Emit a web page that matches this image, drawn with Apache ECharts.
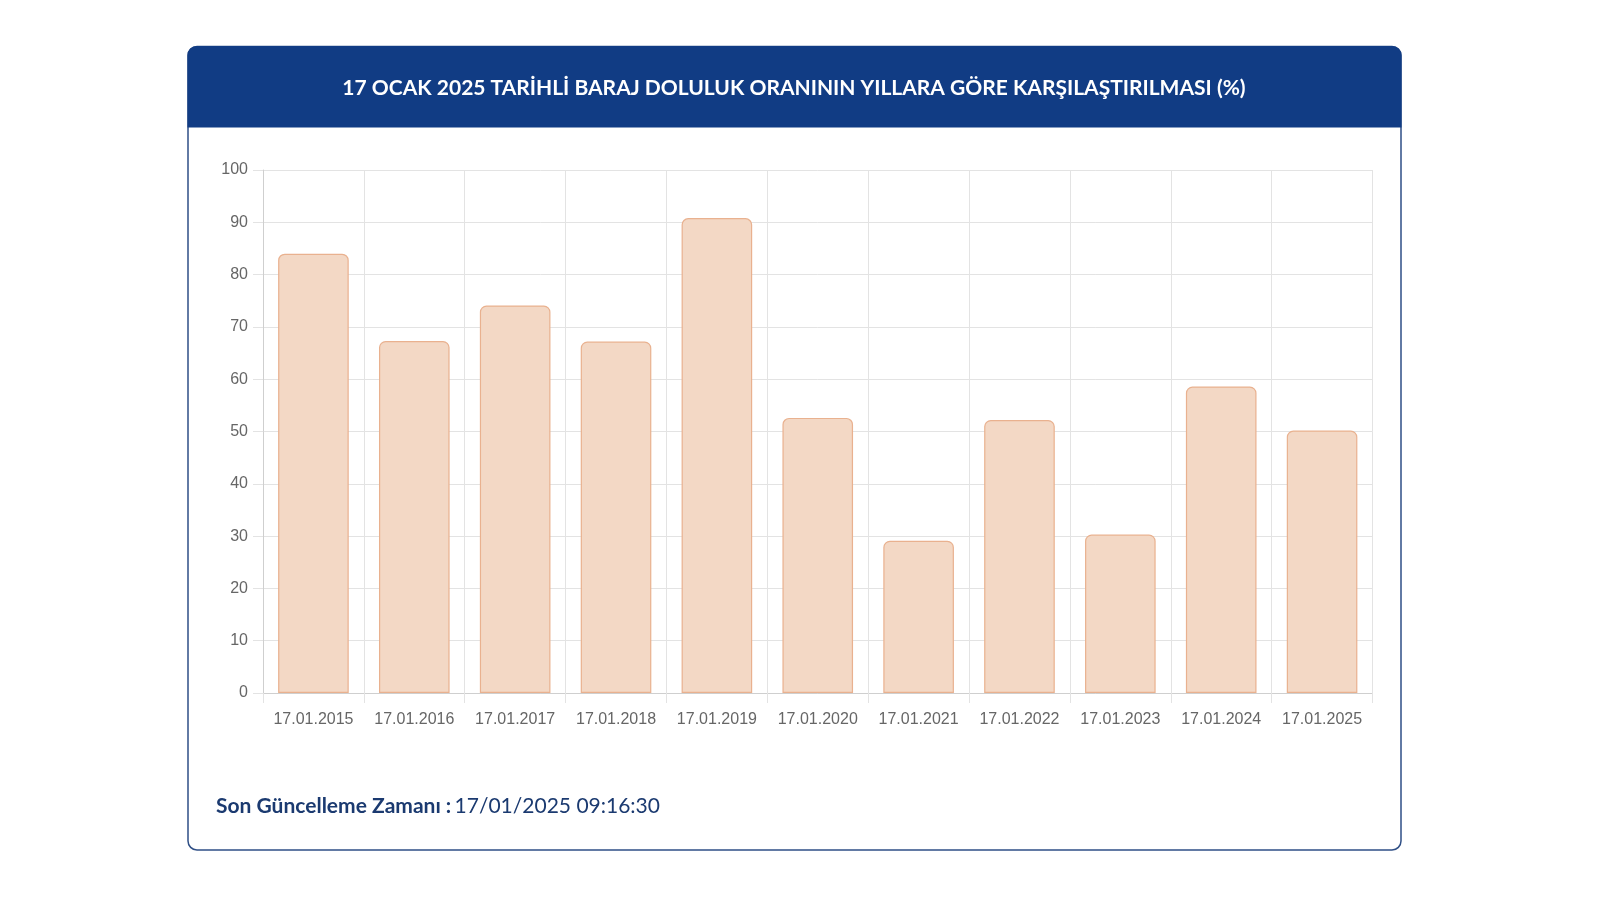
<!DOCTYPE html>
<html>
<head>
<meta charset="utf-8">
<script src="https://cdn.jsdelivr.net/npm/echarts@6/dist/echarts.min.js"></script>
<style>
html,body{margin:0;padding:0;background:#fff;}
#chart{width:1600px;height:900px;}
</style>
</head>
<body>
<div id="chart"></div>
<script>
const titleText = '17 OCAK 2025 TARİHLİ BARAJ DOLULUK ORANININ YILLARA GÖRE KARŞILAŞTIRILMASI (%)';
const categories = ['17.01.2015','17.01.2016','17.01.2017','17.01.2018','17.01.2019','17.01.2020','17.01.2021','17.01.2022','17.01.2023','17.01.2024','17.01.2025'];
const values = [84.0, 67.3, 74.1, 67.2, 90.8, 52.6, 29.1, 52.2, 30.3, 58.6, 50.2];
const yTicks = [0,10,20,30,40,50,60,70,80,90,100];
const footerLabel = 'Son Güncelleme Zamanı :';
const footerValue = '17/01/2025 09:16:30';

const chart = echarts.init(document.getElementById('chart'), null, {renderer:'canvas'});
const gridColor = '#e3e3e3';
chart.setOption({
  animation:false,
  graphic:[
    {type:'rect', z:0, shape:{x:188, y:46.5, width:1213, height:803.5, r:9}, style:{fill:'#fff', stroke:'#2f4f86', lineWidth:1.5}},
    {type:'rect', z:1, shape:{x:187.5, y:46, width:1214, height:81.5, r:[9,9,0,0]}, style:{fill:'#113c84'}},
    {type:'text', z:2, x:794, y:88, style:{
      text:titleText, fill:'#fff', fontFamily:'Lato', fontWeight:'bold', fontSize:21,
      align:'center', verticalAlign:'middle'
    }},
    {type:'text', z:2, left:216, top:796, style:{
      rich:{
        b:{fontFamily:'Lato', fontWeight:'bold', fontSize:21, fill:'#1b3a70'},
        n:{fontFamily:'Lato', fontWeight:'normal', fontSize:21, fill:'#1b3a70'}
      },
      text:'{b|'+footerLabel+'} {n|'+footerValue+'}'
    }}
  ],
  grid:{left:263, right:227.5, top:170, bottom:207, containLabel:false},
  xAxis:{
    type:'category', data:categories, boundaryGap:true,
    axisLine:{show:true, lineStyle:{color:'#cfcfcf', width:1}},
    axisTick:{show:true, length:10, interval:0, lineStyle:{color:gridColor}},
    axisLabel:{color:'#666', fontSize:16, fontFamily:'Liberation Sans', margin:19, interval:0},
    splitLine:{show:true, interval:0, lineStyle:{color:gridColor}}
  },
  yAxis:{
    type:'value', min:0, max:100, interval:10,
    axisLine:{show:true, lineStyle:{color:'#cfcfcf', width:1}},
    axisTick:{show:true, length:10, lineStyle:{color:gridColor}},
    axisLabel:{color:'#666', fontSize:16, fontFamily:'Liberation Sans', margin:15,
      formatter:v=>yTicks.includes(v)?String(v):''},
    splitLine:{show:true, lineStyle:{color:gridColor}}
  },
  series:[{
    type:'bar', data:values, barCategoryGap:'30%',
    itemStyle:{color:'#f3d8c5', borderColor:'#e9b18f', borderWidth:1.2, borderRadius:[6,6,0,0]}
  }]
});
</script>
</body>
</html>
